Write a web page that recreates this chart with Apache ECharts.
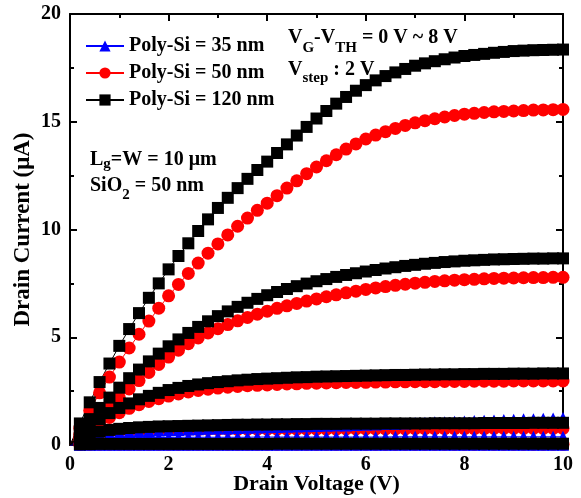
<!DOCTYPE html>
<html>
<head>
<meta charset="utf-8">
<script src="https://cdn.jsdelivr.net/npm/echarts@6/dist/echarts.min.js"></script>
<style>
  html, body { margin: 0; padding: 0; background: #fff; }
  #chart { width: 581px; height: 498px; }
</style>
</head>
<body>
<div id="chart"></div>
<script>
// Drain voltage sweep (V)
const drainVoltage = [0,0.2,0.4,0.6,0.8,1,1.2,1.4,1.6,1.8,2,2.2,2.4,2.6,2.8,3,3.2,3.4,3.6,3.8,4,4.2,4.4,4.6,4.8,5,5.2,5.4,5.6,5.8,6,6.2,6.4,6.6,6.8,7,7.2,7.4,7.6,7.8,8,8.2,8.4,8.6,8.8,9,9.2,9.4,9.6,9.8,10];

// Gate overdrive steps (VG - VTH), one curve each
const overdrive = [0, 2, 4, 6, 8];

// Drain current (uA), Poly-Si = 35 nm
const si35_0V = [0,0.01,0.01,0.01,0.01,0.01,0.01,0.01,0.01,0.01,0.01,0.01,0.01,0.01,0.01,0.01,0.01,0.01,0.01,0.01,0.01,0.01,0.01,0.01,0.01,0.01,0.01,0.01,0.01,0.01,0.01,0.01,0.01,0.01,0.01,0.01,0.01,0.01,0.01,0.01,0.01,0.01,0.01,0.01,0.01,0.01,0.01,0.01,0.01,0.01,0.01];
const si35_2V = [0,0.02,0.03,0.03,0.04,0.04,0.04,0.04,0.04,0.04,0.04,0.04,0.04,0.04,0.04,0.04,0.04,0.04,0.04,0.04,0.04,0.04,0.04,0.04,0.04,0.04,0.04,0.04,0.04,0.04,0.04,0.04,0.04,0.04,0.04,0.04,0.04,0.04,0.04,0.04,0.04,0.04,0.04,0.04,0.04,0.04,0.04,0.04,0.04,0.04,0.04];
const si35_4V = [0,0.06,0.1,0.12,0.13,0.14,0.14,0.15,0.15,0.15,0.15,0.15,0.15,0.15,0.16,0.16,0.16,0.16,0.16,0.16,0.16,0.16,0.16,0.16,0.16,0.16,0.16,0.17,0.17,0.17,0.17,0.17,0.17,0.17,0.17,0.17,0.17,0.17,0.17,0.17,0.17,0.17,0.17,0.17,0.17,0.17,0.17,0.17,0.17,0.17,0.17];
const si35_6V = [0,0.12,0.2,0.26,0.3,0.32,0.33,0.34,0.35,0.35,0.35,0.36,0.36,0.36,0.36,0.36,0.36,0.36,0.36,0.37,0.37,0.37,0.37,0.37,0.37,0.37,0.37,0.37,0.37,0.37,0.37,0.37,0.37,0.38,0.38,0.38,0.38,0.38,0.38,0.38,0.38,0.38,0.38,0.38,0.38,0.38,0.38,0.38,0.38,0.38,0.38];
const si35_8V = [0,0.2,0.35,0.45,0.52,0.57,0.6,0.63,0.65,0.67,0.69,0.7,0.72,0.73,0.75,0.76,0.77,0.79,0.8,0.81,0.82,0.83,0.85,0.86,0.87,0.88,0.89,0.9,0.91,0.93,0.94,0.95,0.97,0.98,1.0,1.02,1.03,1.05,1.06,1.08,1.09,1.11,1.12,1.14,1.16,1.17,1.19,1.2,1.22,1.23,1.25];

// Drain current (uA), Poly-Si = 50 nm
const si50_0V = [0,0.02,0.03,0.03,0.03,0.03,0.03,0.03,0.03,0.03,0.03,0.03,0.03,0.03,0.03,0.03,0.03,0.03,0.03,0.03,0.03,0.03,0.03,0.03,0.03,0.03,0.03,0.03,0.03,0.03,0.03,0.03,0.03,0.03,0.03,0.03,0.03,0.03,0.03,0.03,0.03,0.03,0.03,0.03,0.03,0.03,0.03,0.03,0.03,0.03,0.03];
const si50_2V = [0,0.3,0.48,0.57,0.62,0.65,0.67,0.68,0.69,0.7,0.7,0.71,0.71,0.71,0.72,0.72,0.72,0.72,0.73,0.73,0.73,0.73,0.73,0.74,0.74,0.74,0.74,0.74,0.75,0.75,0.75,0.75,0.75,0.75,0.75,0.76,0.76,0.76,0.76,0.76,0.76,0.76,0.76,0.77,0.77,0.77,0.77,0.77,0.77,0.77,0.77];
const si50_4V = [0,0.38,0.72,1.02,1.28,1.5,1.7,1.87,2.02,2.15,2.27,2.37,2.46,2.53,2.59,2.64,2.68,2.72,2.75,2.77,2.79,2.81,2.83,2.84,2.86,2.87,2.88,2.89,2.9,2.9,2.91,2.92,2.92,2.93,2.93,2.94,2.94,2.94,2.95,2.95,2.95,2.96,2.96,2.96,2.96,2.97,2.97,2.97,2.97,2.97,2.97];
const si50_6V = [0,0.5,0.98,1.42,1.83,2.2,2.6,2.99,3.37,3.74,4.08,4.4,4.7,4.97,5.2,5.4,5.59,5.76,5.92,6.07,6.21,6.34,6.46,6.57,6.68,6.78,6.88,6.97,7.06,7.14,7.22,7.29,7.35,7.41,7.46,7.51,7.55,7.59,7.62,7.65,7.67,7.69,7.71,7.73,7.74,7.75,7.76,7.77,7.77,7.78,7.78];
const si50_8V = [0,0.78,1.6,2.42,3.15,3.85,4.5,5.14,5.75,6.35,6.92,7.45,7.96,8.44,8.9,9.33,9.75,10.15,10.53,10.89,11.22,11.57,11.92,12.26,12.59,12.9,13.19,13.47,13.73,13.97,14.2,14.38,14.54,14.69,14.83,14.95,15.05,15.14,15.22,15.29,15.35,15.39,15.43,15.46,15.48,15.5,15.52,15.54,15.55,15.56,15.57];

// Drain current (uA), Poly-Si = 120 nm
const si120_0V = [0,0.03,0.04,0.05,0.05,0.05,0.05,0.05,0.05,0.05,0.05,0.05,0.05,0.05,0.05,0.05,0.05,0.05,0.05,0.05,0.05,0.06,0.06,0.06,0.06,0.06,0.06,0.06,0.06,0.06,0.06,0.06,0.06,0.06,0.06,0.06,0.06,0.06,0.06,0.06,0.06,0.06,0.06,0.06,0.06,0.06,0.06,0.06,0.06,0.06,0.06];
const si120_2V = [0,0.3,0.5,0.62,0.7,0.75,0.79,0.82,0.84,0.86,0.87,0.88,0.89,0.9,0.91,0.92,0.93,0.94,0.94,0.95,0.95,0.96,0.96,0.97,0.97,0.98,0.98,0.98,0.99,0.99,0.99,0.99,1.0,1.0,1.0,1.0,1.0,1.01,1.01,1.01,1.01,1.01,1.02,1.02,1.02,1.02,1.02,1.03,1.03,1.03,1.03];
const si120_4V = [0,0.45,0.85,1.2,1.48,1.72,1.93,2.12,2.28,2.42,2.55,2.65,2.74,2.81,2.87,2.92,2.96,3.0,3.03,3.06,3.08,3.1,3.12,3.14,3.15,3.17,3.18,3.19,3.2,3.21,3.22,3.23,3.24,3.25,3.25,3.26,3.27,3.27,3.28,3.28,3.29,3.29,3.3,3.3,3.3,3.31,3.31,3.31,3.32,3.32,3.32];
const si120_6V = [0,0.65,1.2,1.72,2.2,2.66,3.1,3.5,3.88,4.24,4.58,4.9,5.2,5.48,5.74,5.98,6.2,6.41,6.6,6.78,6.95,7.1,7.24,7.37,7.49,7.6,7.7,7.8,7.89,7.97,8.05,8.12,8.19,8.25,8.31,8.36,8.41,8.45,8.49,8.52,8.55,8.57,8.59,8.61,8.62,8.63,8.64,8.65,8.65,8.66,8.66];
const si120_8V = [0,1.0,1.98,2.92,3.78,4.6,5.38,6.12,6.83,7.5,8.15,8.77,9.36,9.93,10.47,11.0,11.47,11.92,12.35,12.76,13.15,13.55,13.95,14.36,14.76,15.15,15.5,15.84,16.15,16.44,16.7,16.92,17.12,17.29,17.45,17.6,17.71,17.81,17.9,17.98,18.05,18.1,18.15,18.2,18.24,18.28,18.3,18.32,18.33,18.34,18.35];

// Axis ticks
const xTicks = [0, 2, 4, 6, 8, 10];
const yTicks = [0, 5, 10, 15, 20];

// Legend order
const legendNames = ['Poly-Si = 35 nm', 'Poly-Si = 50 nm', 'Poly-Si = 120 nm'];

// Drawing order: red first, blue over it, black on top
const groups = [
  { name: legendNames[1], color: '#ff0000', symbol: 'circle',   size: 13, curves: [si50_0V, si50_2V, si50_4V, si50_6V, si50_8V] },
  { name: legendNames[0], color: '#0000ff', symbol: 'triangle', size: 12, curves: [si35_0V, si35_2V, si35_4V, si35_6V, si35_8V] },
  { name: legendNames[2], color: '#000000', symbol: 'rect',     size: 12, curves: [si120_0V, si120_2V, si120_4V, si120_6V, si120_8V] }
];

const FAMILY = '"Liberation Serif", "Times New Roman", serif';

const series = [];
groups.forEach(g => {
  g.curves.forEach((curve, k) => {
    series.push({
      type: 'line',
      name: g.name,
      id: g.name + ' / ' + overdrive[k] + ' V',
      xAxisIndex: 0,
      yAxisIndex: 0,
      symbol: g.symbol,
      symbolSize: g.size,
      showAllSymbol: true,
      itemStyle: { color: g.color, borderWidth: 0, opacity: 1 },
      lineStyle: { color: g.color, width: 1 },
      emphasis: { disabled: true },
      data: drainVoltage.map((v, i) => i === 0 ? { value: [v, curve[i]], symbol: 'none' } : [v, curve[i]])
    });
  });
});

const axisCommon = {
  type: 'value',
  axisLine: { show: true, onZero: false, lineStyle: { color: '#000', width: 2 } },
  axisTick: { show: true, inside: true, length: 7, lineStyle: { color: '#000', width: 2 } },
  minorTick: { show: true, splitNumber: 2, length: 4, lineStyle: { color: '#000', width: 2 } },
  splitLine: { show: false },
  minorSplitLine: { show: false }
};

const labelStyle = { color: '#000', fontFamily: FAMILY, fontWeight: 'bold', fontSize: 20 };

const xAxisBase = Object.assign({}, axisCommon, { min: xTicks[0], max: xTicks[xTicks.length - 1], interval: xTicks[1] - xTicks[0] });
const yAxisBase = Object.assign({}, axisCommon, { min: yTicks[0], max: yTicks[yTicks.length - 1], interval: yTicks[1] - yTicks[0] });

// Text with subscripts: pieces laid out left to right on a common baseline
const measureCtx = document.createElement('canvas').getContext('2d');
function fontOf(size) { return 'bold ' + size + 'px ' + FAMILY; }
function textWidth(str, size) { measureCtx.font = fontOf(size); return measureCtx.measureText(str).width; }
function annotation(x, baseline, pieces) {
  const out = [];
  let cx = x;
  pieces.forEach(p => {
    const size = p.sub ? 15 : 20;
    const base = baseline + (p.sub ? p.drop : 0);
    out.push({
      type: 'text', x: cx, y: base - 0.3375 * size, silent: true, z: 100,
      style: { text: p.t, font: fontOf(size), fill: '#000', verticalAlign: 'middle', align: 'left' }
    });
    cx += textWidth(p.t, size);
  });
  return out;
}

const graphics = [].concat(
  annotation(288, 45, [{ t: 'V' }, { t: 'G', sub: true, drop: 8 }, { t: '-V' }, { t: 'TH', sub: true, drop: 8 }, { t: ' = 0 V ~ 8 V' }]),
  annotation(288, 77, [{ t: 'V' }, { t: 'step', sub: true, drop: 6 }, { t: ' : 2 V' }]),
  annotation(90, 167, [{ t: 'L' }, { t: 'g', sub: true, drop: 2 }, { t: '=W = 10 μm' }]),
  annotation(90, 193, [{ t: 'SiO' }, { t: '2', sub: true, drop: 7 }, { t: ' = 50 nm' }])
);

const chart = echarts.init(document.getElementById('chart'), null, { renderer: 'canvas' });
chart.setOption({
  animation: false,
  backgroundColor: '#fff',
  grid: { left: 70, right: 18, top: 14, bottom: 53, outerBoundsMode: 'none', containLabel: false },
  xAxis: [
    Object.assign({}, xAxisBase, {
      position: 'bottom',
      axisLabel: Object.assign({ margin: 10 }, labelStyle),
      name: 'Drain Voltage (V)',
      nameLocation: 'middle',
      nameGap: 28,
      nameMoveOverlap: false,
      nameTextStyle: { color: '#000', fontFamily: FAMILY, fontWeight: 'bold', fontSize: 22 }
    }),
    Object.assign({}, xAxisBase, { position: 'top', axisLabel: { show: false } })
  ],
  yAxis: [
    Object.assign({}, yAxisBase, {
      position: 'left',
      axisLabel: Object.assign({ margin: 9 }, labelStyle),
      name: 'Drain Current (μA)',
      nameLocation: 'middle',
      nameGap: 35,
      nameMoveOverlap: false,
      nameTextStyle: { color: '#000', fontFamily: FAMILY, fontWeight: 'bold', fontSize: 23 }
    }),
    Object.assign({}, yAxisBase, { position: 'right', axisLabel: { show: false } })
  ],
  legend: {
    orient: 'vertical',
    left: 85,
    top: 36,
    padding: 0,
    itemWidth: 38,
    itemHeight: 14,
    itemGap: 7,
    selectedMode: false,
    data: legendNames,
    textStyle: { color: '#000', fontFamily: FAMILY, fontWeight: 'bold', fontSize: 20, lineHeight: 20 }
  },
  graphic: graphics,
  series: series
});
</script>
</body>
</html>
